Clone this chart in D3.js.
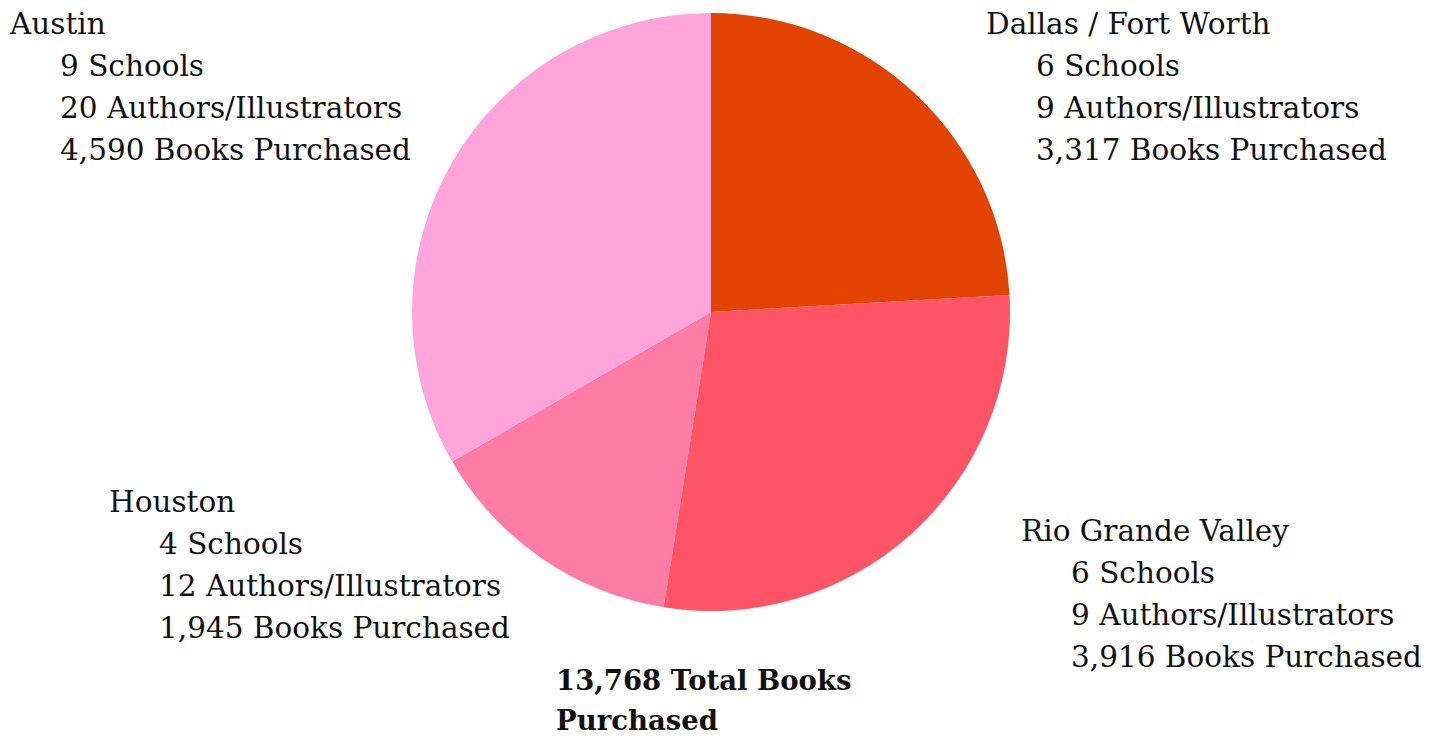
<!DOCTYPE html>
<html>
<head>
<meta charset="utf-8">
<script src="https://cdn.jsdelivr.net/npm/d3@7"></script>
<style>
  html, body { margin: 0; padding: 0; background: #ffffff; }
  svg { display: block; }
  text { font-family: "DejaVu Serif", "Liberation Serif", serif; fill: #111111; }
</style>
</head>
<body>
<svg id="chart" width="1442" height="736"></svg>
<script>
// Data
const regions = ["Dallas / Fort Worth", "Rio Grande Valley", "Houston", "Austin"];
const books = [3317, 3916, 1945, 4590];
const schools = [6, 6, 4, 9];
const authors = [9, 9, 12, 20];
const colors = ["#E24400", "#FF5465", "#FF7CA6", "#FFA5DC"];
const totalLabel = ["13,768 Total Books", "Purchased"];

const svg = d3.select("#chart");
const cx = 711, cy = 312, r = 299;

const data = regions.map((name, i) => ({ name, books: books[i], schools: schools[i], authors: authors[i], color: colors[i] }));

const pie = d3.pie().sort(null).value(d => d.books);
const arc = d3.arc().innerRadius(0).outerRadius(r);

svg.append("g")
  .attr("transform", `translate(${cx},${cy})`)
  .selectAll("path")
  .data(pie(data))
  .join("path")
  .attr("d", arc)
  .attr("fill", d => d.data.color);

// Label positions (x of title, baseline y of title)
const labelPos = {
  "Dallas / Fort Worth": [986, 34],
  "Rio Grande Valley": [1021, 541],
  "Houston": [109, 512],
  "Austin": [10, 34]
};
const fmt = d3.format(",");
const fs = 29.5, lh = 42, indent = 50;

data.forEach(d => {
  const [x, y] = labelPos[d.name];
  const lines = [d.name, `${d.schools} Schools`, `${d.authors} Authors/Illustrators`, `${fmt(d.books)} Books Purchased`];
  const g = svg.append("g");
  lines.forEach((t, i) => {
    g.append("text")
      .attr("x", i === 0 ? x : x + indent)
      .attr("y", y + i * lh)
      .attr("font-size", fs)
      .text(t);
  });
});

totalLabel.forEach((t, i) => {
  svg.append("text")
    .attr("x", 556)
    .attr("y", 690 + i * 40)
    .attr("font-size", 27.5)
    .attr("font-weight", "bold")
    .text(t);
});
</script>
</body>
</html>
